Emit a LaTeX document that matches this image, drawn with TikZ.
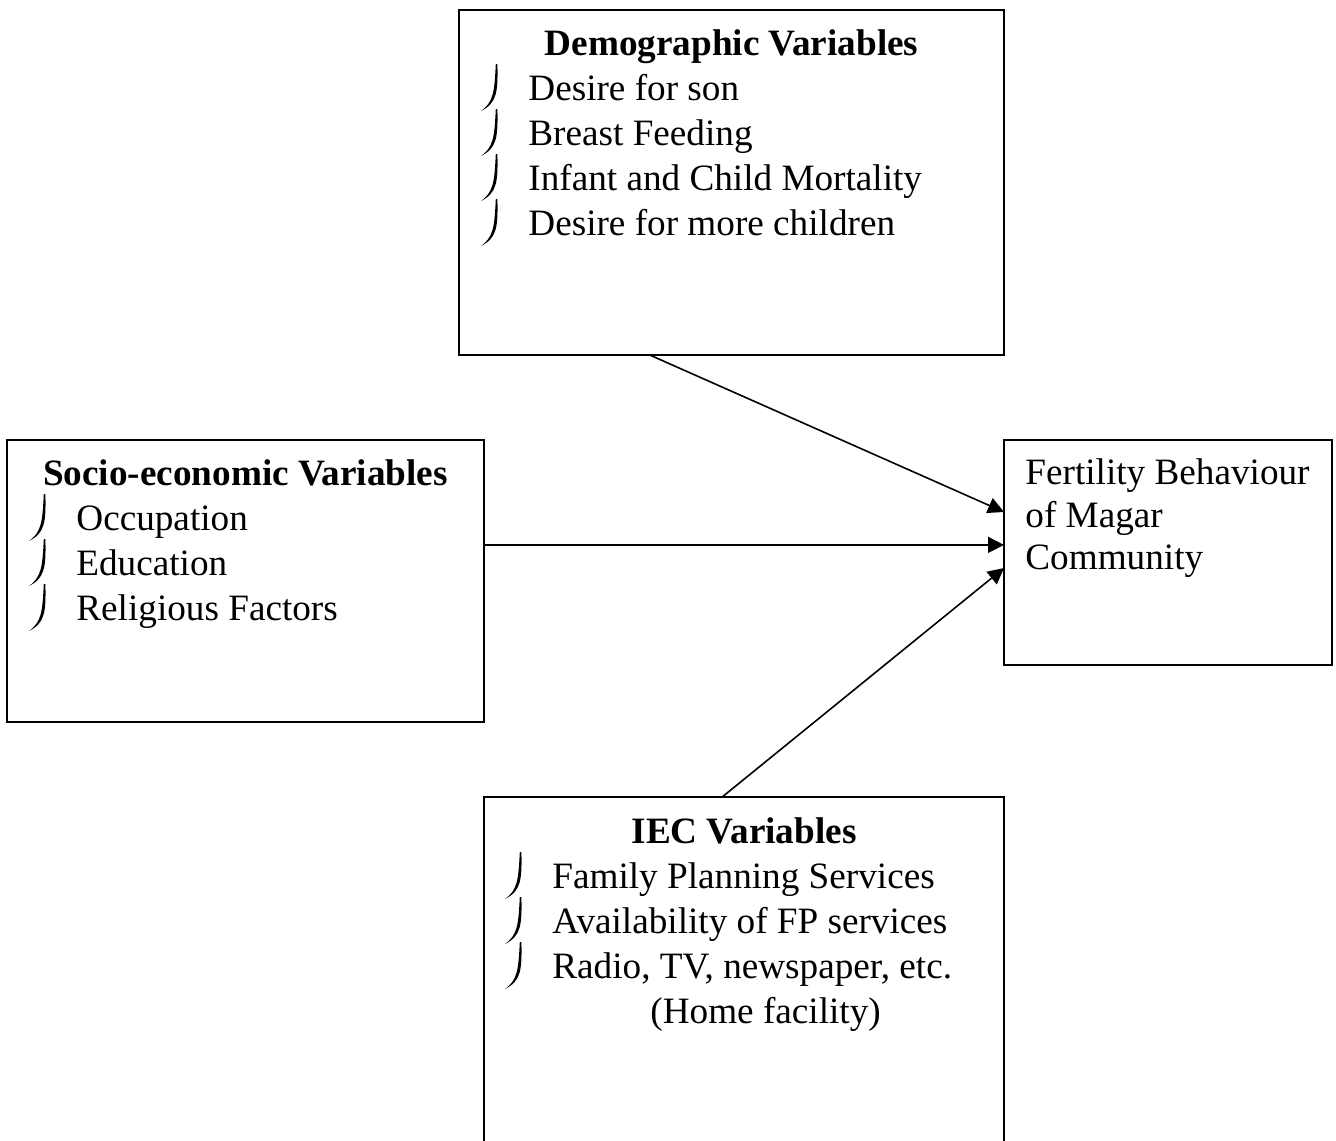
\documentclass[tikz,border=0pt]{standalone}
\usepackage{fontspec}
\setmainfont{Liberation Serif}
\usetikzlibrary{arrows.meta,calc}
\tikzset{
 box/.style={draw, line width=1pt, inner sep=0pt, outer sep=0pt},
 txt/.style={anchor=base west, inner sep=0pt, font=\fontsize{18.6}{22}\selectfont},
 ttl/.style={anchor=base, inner sep=0pt, font=\fontsize{18.6}{22}\selectfont\bfseries},
 arr/.style={line width=0.8pt, -{Triangle[length=8pt,width=8pt]}},
 hookmark/.pic={\fill (-30.6,-36) .. controls (-30,-8) and (-31,3) .. (-47,11) .. controls (-34.5,2) and (-33.6,-8) .. (-32.2,-36) -- cycle;}
}
\begin{document}
\begin{tikzpicture}[x=0.5pt,y=-0.5pt]
\useasboundingbox (0,0) rectangle (1336,1140);
\clip (0,0) rectangle (1336,1140);
% boxes
\node[box, minimum width=272.5pt, minimum height=172.5pt] (demo) at (731.5,182.5) {};
\node[box, minimum width=238.5pt, minimum height=141pt] (socio) at (245.5,581) {};
\node[box, minimum width=164pt, minimum height=112.5pt] (fert) at (1168,552.5) {};
\node[box, minimum width=260pt, minimum height=201.5pt] (iec) at (744,998.5) {};
% demographic
\node[ttl] (dt) at (731.5,55) {Demographic Variables};
\node[txt] (d1) at (528,100) {Desire for son};
\node[txt] (d2) at (528,145) {Breast Feeding};
\node[txt] (d3) at (528,190) {Infant and Child Mortality};
\node[txt] (d4) at (528,235) {Desire for more children};
\foreach \y in {100,145,190,235} \pic at (528,\y) {hookmark};
% socio-economic
\node[ttl] (st) at (245.5,485) {Socio-economic Variables};
\node[txt] (s1) at (76,530) {Occupation};
\node[txt] (s2) at (76,575) {Education};
\node[txt] (s3) at (76,620) {Religious Factors};
\foreach \y in {530,575,620} \pic at (76,\y) {hookmark};
% fertility
\node[txt] (f1) at (1025,484) {Fertility Behaviour};
\node[txt] (f2) at (1025,527) {of Magar};
\node[txt] (f3) at (1025,569) {Community};
% IEC
\node[ttl] (it) at (744,843) {IEC Variables};
\node[txt] (i1) at (552,888) {Family Planning Services};
\node[txt] (i2) at (552,933) {Availability of FP services};
\node[txt] (i3) at (552,978) {Radio, TV, newspaper, etc.};
\node[txt] (i4) at (650,1023) {(Home facility)};
\foreach \y in {888,933,978} \pic at (552,\y) {hookmark};
% arrows
\draw[arr] ($(demo.south west)!0.35!(demo.south east)$) -- ($(fert.north west)!0.32!(fert.south west)$);
\draw[arr] ($(socio.north east)!0.372!(socio.south east)$) coordinate (m) -- (m -| fert.west);
\draw[arr] ($(iec.north west)!0.458!(iec.north east)$) -- ($(fert.north west)!0.569!(fert.south west)$);
\end{tikzpicture}
\end{document}
